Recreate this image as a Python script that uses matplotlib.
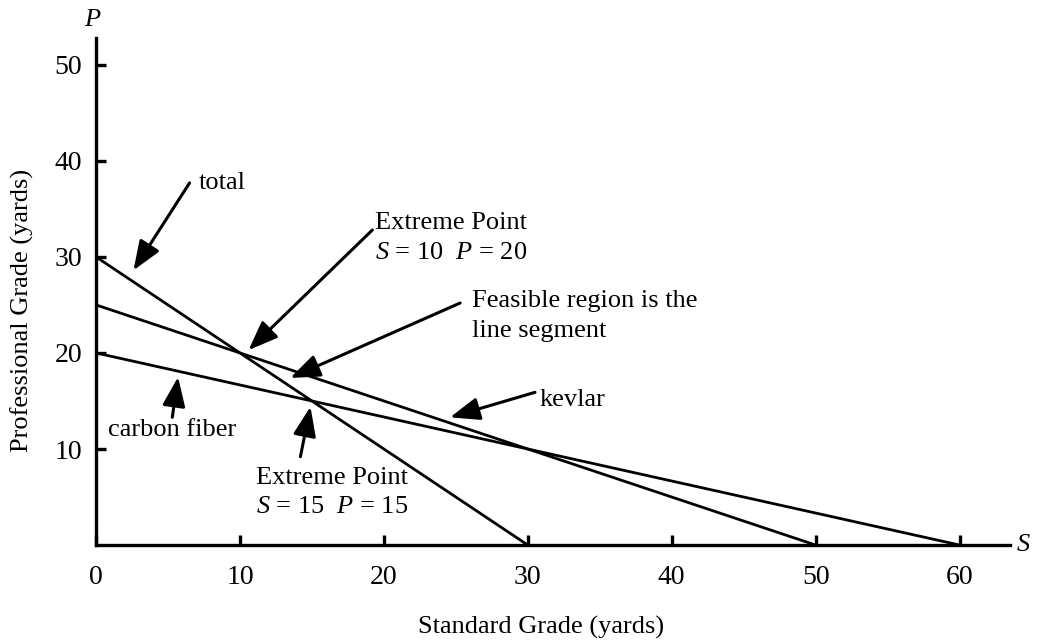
import matplotlib.pyplot as plt

plt.rcParams['font.family'] = ['Liberation Serif', 'DejaVu Serif']
plt.rcParams['mathtext.fontset'] = 'custom'
plt.rcParams['mathtext.it'] = 'Liberation Serif:italic'
plt.rcParams['mathtext.rm'] = 'Liberation Serif'

# ===================== data =====================
line_names = ["total", "kevlar", "carbon fiber"]
s_intercepts = [30, 50, 60]   # value of S where P = 0
p_intercepts = [30, 25, 20]   # value of P where S = 0
x_ticks = [0, 10, 20, 30, 40, 50, 60]
y_ticks = [10, 20, 30, 40, 50]

# ===================== figure =====================
fig = plt.figure(figsize=(10.38, 6.42), dpi=100)
ax = fig.add_axes([0.0925, 0.151, 0.8805, 0.79])
ax.set_xlim(0, 63.5)
ax.set_ylim(0, 52.8)

for s0, p0 in zip(s_intercepts, p_intercepts):
    ax.plot([0, s0], [p0, 0], color='black', lw=2.0, solid_capstyle='butt')

for side in ['top', 'right']:
    ax.spines[side].set_visible(False)
for side in ['left', 'bottom']:
    ax.spines[side].set_linewidth(2.4)

ax.set_xticks(x_ticks)
ax.set_yticks(y_ticks)
ax.tick_params(axis='both', direction='in', length=7, width=2.4, labelsize=20)
ax.tick_params(axis='x', pad=14)
ax.tick_params(axis='y', pad=10)

fs = 19

# axis labels
ax.text(-0.25, 54.0, "P", style='italic', fontsize=fs, ha='center', va='baseline',
        clip_on=False)
ax.text(64.0, 0, "S", style='italic', fontsize=fs, ha='left', va='center',
        clip_on=False)
fig.text(0.521, 0.023, "Standard Grade (yards)", fontsize=fs, ha='center', va='center')
fig.text(0.021, 0.517, "Professional Grade (yards)", fontsize=fs, rotation=90,
         ha='center', va='center')

# ===================== annotations =====================
arrow = dict(arrowstyle='-|>,head_length=0.9,head_width=0.35', color='black',
             lw=2.2, shrinkA=0, shrinkB=0, mutation_scale=20)

ax.annotate("", xy=(2.6, 28.6), xytext=(6.5, 37.7), arrowprops=arrow)
ax.text(7.1, 37.7, "total", fontsize=fs, ha='left', va='center')

ax.annotate("", xy=(10.6, 20.3), xytext=(19.2, 32.8), arrowprops=arrow)
ax.text(19.4, 33.5, "Extreme Point", fontsize=fs, ha='left', va='center')
ax.text(19.4, 30.4, r"$S$ = 10  $P$ = 20", fontsize=fs, ha='left', va='center')

ax.annotate("", xy=(13.5, 17.4), xytext=(25.3, 25.2), arrowprops=arrow)
ax.text(26.1, 25.4, "Feasible region is the", fontsize=fs, ha='left', va='center')
ax.text(26.1, 22.3, "line segment", fontsize=fs, ha='left', va='center')

ax.annotate("", xy=(24.6, 13.3), xytext=(30.5, 15.9), arrowprops=arrow)
ax.text(30.8, 15.1, "kevlar", fontsize=fs, ha='left', va='center')

ax.annotate("", xy=(5.7, 17.5), xytext=(5.3, 13.3), arrowprops=arrow)
ax.text(5.3, 12.0, "carbon fiber", fontsize=fs, ha='center', va='center')

ax.annotate("", xy=(14.9, 14.4), xytext=(14.2, 9.2), arrowprops=arrow)
ax.text(11.1, 7.0, "Extreme Point", fontsize=fs, ha='left', va='center')
ax.text(11.1, 4.0, r"$S$ = 15  $P$ = 15", fontsize=fs, ha='left', va='center')

fig.savefig("out.png", dpi=100)
